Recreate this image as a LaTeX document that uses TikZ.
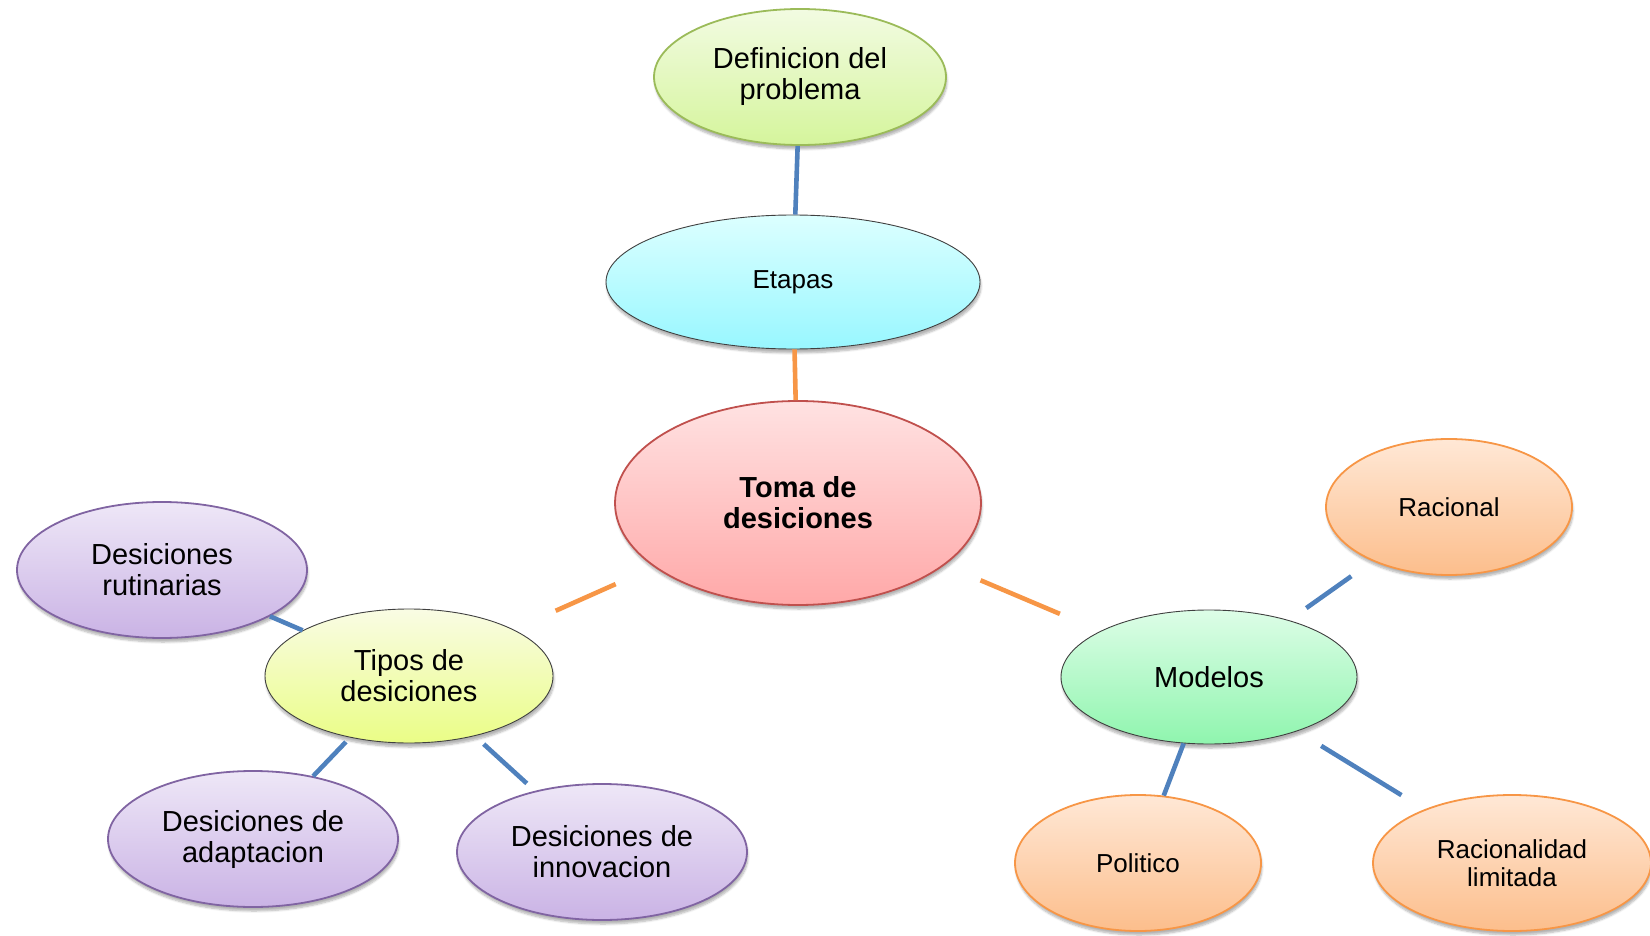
\documentclass[tikz,border=0pt]{standalone}
\usepackage{fontspec}
\setmainfont{Liberation Sans}
\usetikzlibrary{shapes.geometric,shadows.blur}
\definecolor{lnblue}{HTML}{4F81BD}
\definecolor{lnorange}{HTML}{F79646}
\definecolor{grnB}{HTML}{9BBB59}
\definecolor{redB}{HTML}{C0504D}
\definecolor{purB}{HTML}{8064A2}
\definecolor{oraB}{HTML}{F79646}
\definecolor{grayB}{HTML}{404040}
\definecolor{defT}{HTML}{F2FBE2}\definecolor{defD}{HTML}{D5F59C}
\definecolor{etaT}{HTML}{DCFFFF}\definecolor{etaD}{HTML}{98F7FF}
\definecolor{tomT}{HTML}{FFE2E2}\definecolor{tomD}{HTML}{FFA8A8}
\definecolor{tipT}{HTML}{F9FCE4}\definecolor{tipD}{HTML}{EAFD86}
\definecolor{purT}{HTML}{EEE7F7}\definecolor{purD}{HTML}{CAB3E5}
\definecolor{modT}{HTML}{DDFDE7}\definecolor{modD}{HTML}{8FF5AE}
\definecolor{oraT}{HTML}{FFE8D6}\definecolor{oraD}{HTML}{FCBE8C}
\begin{document}
\begin{tikzpicture}[x=1pt,y=-1pt,
  bub/.style={ellipse, inner sep=0pt, align=center, line width=1.8pt,
    blur shadow={shadow xshift=1pt, shadow yshift=-4pt, shadow opacity=30, shadow blur steps=6}},
  big/.style={font=\fontsize{29}{31}\selectfont},
  small/.style={font=\fontsize{26}{27.5}\selectfont},
  defst/.style={bub, big, draw=grnB, top color=defT, bottom color=defD},
  etapst/.style={bub, small, draw=grayB, line width=0.9pt, top color=etaT, bottom color=etaD},
  tomast/.style={bub, big, draw=redB, top color=tomT, bottom color=tomD},
  tipost/.style={bub, big, draw=grayB, line width=0.9pt, top color=tipT, bottom color=tipD},
  purst/.style={bub, big, draw=purB, top color=purT, bottom color=purD},
  modst/.style={bub, big, draw=grayB, line width=0.9pt, top color=modT, bottom color=modD},
  orast/.style={bub, small, draw=oraB, top color=oraT, bottom color=oraD},
  bl/.style={draw=lnblue, line width=4.6pt},
  orl/.style={draw=lnorange, line width=4.6pt}]
\useasboundingbox (0,0) rectangle (1650,936);

\node[defst, minimum width=292pt, minimum height=136pt] (def) at (800,77) {Definicion del\\problema};
\node[etapst, minimum width=374pt, minimum height=134pt] (etapas) at (793,282) {Etapas};
\node[tomast, minimum width=366pt, minimum height=204pt] (toma) at (798,503) {\bfseries Toma de\\\bfseries desiciones};
\node[tipost, minimum width=288pt, minimum height=134pt] (tipos) at (409,676) {Tipos de\\desiciones};
\node[purst, minimum width=290pt, minimum height=136pt] (rut) at (162,570) {Desiciones\\rutinarias};
\node[purst, minimum width=290pt, minimum height=136pt] (adap) at (253,839) {Desiciones de\\adaptacion};
\node[purst, minimum width=290pt, minimum height=136pt] (innov) at (602,852) {Desiciones de\\innovacion};
\node[modst, minimum width=296pt, minimum height=134pt] (mod) at (1209,677) {Modelos};
\node[orast, minimum width=246pt, minimum height=136pt] (rac) at (1449,507) {Racional};
\node[orast, minimum width=246pt, minimum height=136pt] (pol) at (1138,863) {Politico};
\node[orast, minimum width=278pt, minimum height=136pt] (rl) at (1512,863) {Racionalidad\\limitada};

\draw[bl] (def) -- (etapas);
\draw[orl] (etapas) -- (toma);
\draw[orl, shorten <=42pt, shorten >=46pt] (toma) -- (tipos);
\draw[orl, shorten <=39pt, shorten >=44pt] (toma) -- (mod);
\draw[bl] (tipos) -- (rut);
\draw[bl, shorten <=6pt] (tipos) -- (adap);
\draw[bl, shorten <=12pt, shorten >=11pt] (tipos) -- (innov);
\draw[bl, shorten <=21pt, shorten >=26pt] (mod) -- (rac);
\draw[bl] (mod) -- (pol);
\draw[bl, shorten <=28pt, shorten >=27pt] (mod) -- (rl);
\end{tikzpicture}
\end{document}
